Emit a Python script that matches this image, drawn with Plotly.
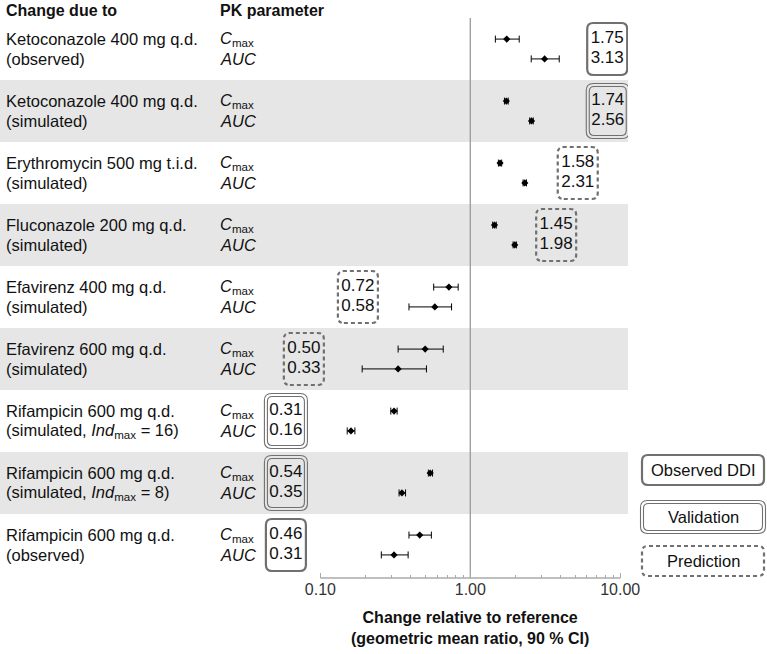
import plotly.graph_objects as go

# ---------------- data ----------------
label_line1 = ["Ketoconazole 400 mg q.d.", "Ketoconazole 400 mg q.d.", "Erythromycin 500 mg t.i.d.",
               "Fluconazole 200 mg q.d.", "Efavirenz 400 mg q.d.", "Efavirenz 600 mg q.d.",
               "Rifampicin 600 mg q.d.", "Rifampicin 600 mg q.d.", "Rifampicin 600 mg q.d."]
label_line2 = ["(observed)", "(simulated)", "(simulated)", "(simulated)", "(simulated)", "(simulated)",
               "(simulated, <i>Ind</i><sub>max</sub> = 16)", "(simulated, <i>Ind</i><sub>max</sub> = 8)",
               "(observed)"]
cmax = [1.75, 1.74, 1.58, 1.45, 0.72, 0.50, 0.31, 0.54, 0.46]
cmax_lo = [1.47, 1.69, 1.54, 1.41, 0.57, 0.33, 0.295, 0.525, 0.39]
cmax_hi = [2.12, 1.79, 1.62, 1.49, 0.83, 0.66, 0.325, 0.56, 0.55]
auc = [3.13, 2.56, 2.31, 1.98, 0.58, 0.33, 0.16, 0.35, 0.31]
auc_lo = [2.55, 2.49, 2.25, 1.93, 0.39, 0.19, 0.151, 0.335, 0.255]
auc_hi = [3.92, 2.63, 2.37, 2.03, 0.75, 0.51, 0.170, 0.37, 0.385]
box_kind = ["observed", "validation", "prediction", "prediction", "prediction", "prediction",
            "validation", "validation", "observed"]
tick_vals = [0.1, 1, 10]
tick_text = ["0.10", "1.00", "10.00"]
minor_vals = [0.2, 0.3, 0.4, 0.5, 0.6, 0.7, 0.8, 0.9, 2, 3, 4, 5, 6, 7, 8, 9]
legend_kinds = ["observed", "validation", "prediction"]
legend_text = ["Observed DDI", "Validation", "Prediction"]

# ---------------- layout settings (positions / styles) ----------------
box_center_x = [8.19, 8.26, 5.21, 3.74, 0.178, 0.0776, 0.0589, 0.0589, 0.0589]
FONT = "Liberation Sans, Arial, sans-serif"
TXT = "#111111"
BOXC = "#707070"
W, H = 767, 654
ML, MR, MT, MB = 0, 139, 18, 76
PW = W - ML - MR
PH = H - MT - MB
off = 0.16
LBL = 16.5

n = len(cmax)
rows = list(range(n))
y_c = [i - off for i in rows]
y_a = [i + off for i in rows]

fig = go.Figure()

# alternating shading
for i in rows:
    if i % 2 == 1:
        fig.add_shape(type="rect", xref="paper", x0=0, x1=1, yref="y", y0=i - 0.5, y1=i + 0.5,
                      fillcolor="#e6e6e6", line_width=0, layer="below")

# reference line at 1 and axis line
fig.add_shape(type="line", xref="x", x0=1, x1=1, yref="paper", y0=0, y1=1,
              line=dict(color="#9a9a9a", width=1.3), layer="below")
fig.add_shape(type="line", xref="x", x0=tick_vals[0], x1=tick_vals[-1], yref="paper", y0=0, y1=0,
              line=dict(color="#aaaaaa", width=1.3))


def rrect(w, h, r):
    return (f"M {-w + r},{-h} L {w - r},{-h} Q {w},{-h} {w},{-h + r} L {w},{h - r} Q {w},{h} {w - r},{h} "
            f"L {-w + r},{h} Q {-w},{h} {-w},{h - r} L {-w},{-h + r} Q {-w},{-h} {-w + r},{-h} Z")


def add_box(kind, xref, xa, yref, ya, hw, hh):
    common = dict(type="path", xref=xref, yref=yref, xsizemode="pixel", ysizemode="pixel",
                  xanchor=xa, yanchor=ya, layer="above")
    if kind == "observed":
        fig.add_shape(path=rrect(hw, hh, 6), line=dict(color=BOXC, width=2.2), **common)
    elif kind == "validation":
        fig.add_shape(path=rrect(hw + 1.5, hh + 1.5, 7), line=dict(color=BOXC, width=1.1), **common)
        fig.add_shape(path=rrect(hw - 1.5, hh - 1.5, 5), line=dict(color=BOXC, width=1.1), **common)
    else:
        fig.add_shape(path=rrect(hw, hh, 6), line=dict(color=BOXC, width=2.2, dash="4px,3px"), **common)


for i in rows:
    add_box(box_kind[i], "x", box_center_x[i], "y", i, 20, 26)

# data points with CI
for vals, lo, hi, yy in [(cmax, cmax_lo, cmax_hi, y_c), (auc, auc_lo, auc_hi, y_a)]:
    fig.add_trace(go.Scatter(
        x=vals, y=yy, mode="markers",
        marker=dict(symbol="diamond", size=5.5, color="black"),
        error_x=dict(type="data", symmetric=False,
                     array=[h - v for h, v in zip(hi, vals)],
                     arrayminus=[v - l for v, l in zip(vals, lo)],
                     color="black", thickness=1, width=3.5),
        showlegend=False, hoverinfo="skip"))

# values in boxes
for vals, yy in [(cmax, y_c), (auc, y_a)]:
    fig.add_trace(go.Scatter(
        x=box_center_x, y=yy, mode="text", text=[f"{v:.2f}" for v in vals],
        textposition="middle center", textfont=dict(family=FONT, size=17, color=TXT),
        showlegend=False, hoverinfo="skip"))

# row labels
for i in rows:
    for txt, yy in [(label_line1[i], y_c[i]), (label_line2[i], y_a[i])]:
        fig.add_annotation(text=txt, xref="paper", x=4 / PW, yref="y", y=yy, xanchor="left",
                           yanchor="middle", showarrow=False, font=dict(family=FONT, size=LBL, color=TXT))
    fig.add_annotation(text="<i>C</i><sub>max</sub>", xref="paper", x=218 / PW, yref="y", y=y_c[i],
                       xanchor="left", yanchor="middle", showarrow=False,
                       font=dict(family=FONT, size=LBL, color=TXT))
    fig.add_annotation(text="<i>AUC</i>", xref="paper", x=218 / PW, yref="y", y=y_a[i],
                       xanchor="left", yanchor="middle", showarrow=False,
                       font=dict(family=FONT, size=LBL, color=TXT))

# headers
for txt, xp in [("<b>Change due to</b>", 4), ("<b>PK parameter</b>", 218)]:
    fig.add_annotation(text=txt, xref="paper", x=xp / PW, yref="paper", y=1 + 8 / PH,
                       xanchor="left", yanchor="middle", showarrow=False,
                       font=dict(family=FONT, size=16, color=TXT))

# axis title
fig.add_annotation(text="<b>Change relative to reference</b><br><b>(geometric mean ratio, 90 % CI)</b>",
                   xref="x", x=0, yref="paper", y=-29 / PH, xanchor="center", yanchor="top",
                   showarrow=False, font=dict(family=FONT, size=16, color=TXT))

# legend boxes
legend_y_px = [470, 517, 561]
for k, t, py in zip(legend_kinds, legend_text, legend_y_px):
    yp = (MT + PH - py) / PH
    add_box(k, "paper", 703 / PW, "paper", yp, 61, 15)
    fig.add_annotation(text=t, xref="paper", x=703 / PW, yref="paper", y=yp, xanchor="center",
                       yanchor="middle", showarrow=False, font=dict(family=FONT, size=LBL, color=TXT))

fig.update_xaxes(type="log", range=[-3.137, 1.052], tickmode="array", tickvals=tick_vals,
                 ticktext=tick_text, ticks="inside", ticklen=5, tickwidth=1, tickcolor="#aaaaaa",
                 minor=dict(tickmode="array", tickvals=minor_vals, ticks="inside", ticklen=3.5,
                            tickwidth=1, tickcolor="#aaaaaa", showgrid=False),
                 showline=False, showgrid=False, zeroline=False,
                 tickfont=dict(family=FONT, size=16, color="#333333"))
fig.update_yaxes(range=[n - 0.5 + 2 / 62, -0.5], visible=False, showgrid=False, zeroline=False)

fig.update_layout(width=W, height=H, margin=dict(l=ML, r=MR, t=MT, b=MB),
                  paper_bgcolor="white", plot_bgcolor="white", showlegend=False,
                  font=dict(family=FONT, size=16, color=TXT))

fig.write_html("out.html", config={"displayModeBar": False},
               post_script="document.body.style.margin='0';document.body.style.padding='0';"
                           "document.documentElement.style.overflow='hidden';")
